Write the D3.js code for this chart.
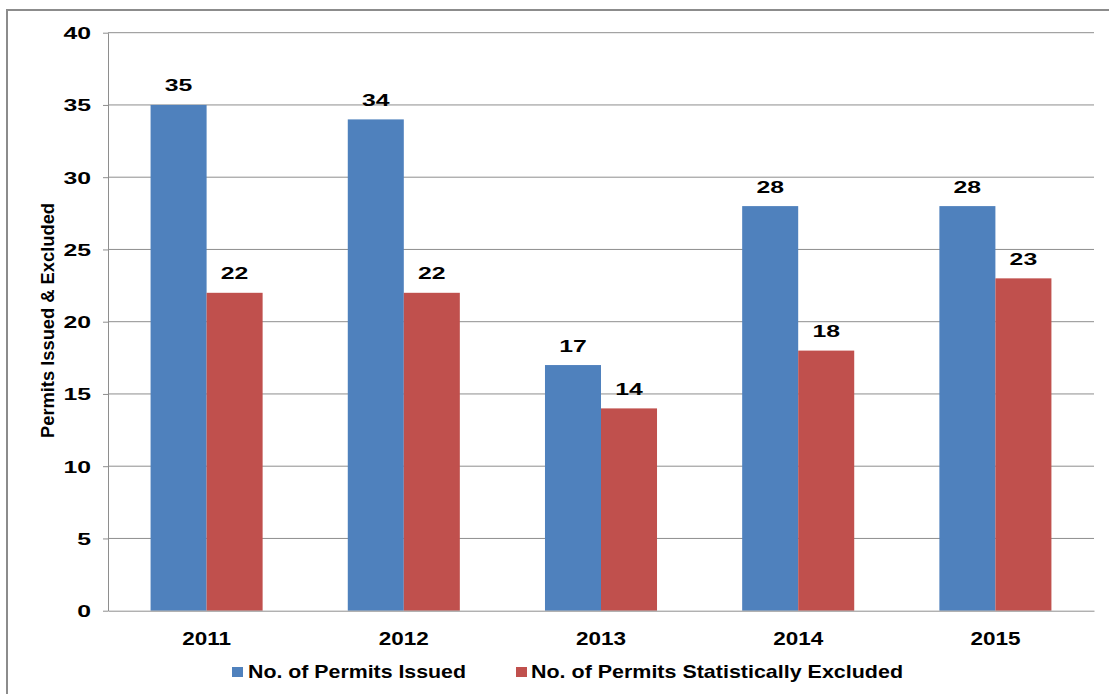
<!DOCTYPE html>
<html>
<head>
<meta charset="utf-8">
<script src="https://cdn.jsdelivr.net/npm/d3@7"></script>
<style>
  html, body { margin: 0; padding: 0; background: #fff; }
  svg { display: block; }
  text { font-family: "Liberation Sans", Arial, sans-serif; font-weight: bold; fill: #000; }
</style>
</head>
<body>
<svg id="chart" width="1109" height="694"></svg>
<script>
const years = ["2011", "2012", "2013", "2014", "2015"];
const seriesNames = ["No. of Permits Issued", "No. of Permits Statistically Excluded"];
const permitsIssued = [35, 34, 17, 28, 28];
const permitsExcluded = [22, 22, 14, 18, 23];
const yTicks = [0, 5, 10, 15, 20, 25, 30, 35, 40];
const seriesColors = ["#4F81BD", "#C0504D"];
const yTitle = "Permits Issued & Excluded";

const svg = d3.select("#chart");
const W = 1109, H = 694;
const plot = { left: 108, right: 1094, top: 32.7, bottom: 610.7 };

function stretch(sel, factor) {
  sel.each(function () {
    const l = this.getComputedTextLength();
    d3.select(this).attr("textLength", l * factor).attr("lengthAdjust", "spacingAndGlyphs");
  });
}

// outer frame (left and top edges visible)
svg.append("path")
  .attr("d", `M7,${H} L7,10 L${W},10`)
  .attr("fill", "none").attr("stroke", "#8c8c8c").attr("stroke-width", 2);

const x0 = d3.scaleBand().domain(years).range([plot.left, plot.right]).padding(0);
const x1 = d3.scaleBand().domain([0, 1]).range([0, x0.bandwidth()]).paddingInner(0).paddingOuter(0.76);
const y = d3.scaleLinear().domain([0, 40]).range([plot.bottom, plot.top]);

// gridlines
svg.append("g").selectAll("line").data(yTicks.filter(d => d > 0)).join("line")
  .attr("x1", plot.left).attr("x2", plot.right)
  .attr("y1", d => y(d)).attr("y2", d => y(d))
  .attr("stroke", "#8e8e8e").attr("stroke-width", 1);

// y axis
const yAxis = svg.append("g").attr("transform", `translate(${plot.left},0)`)
  .call(d3.axisLeft(y).tickValues(yTicks).tickSize(5).tickPadding(12).tickSizeOuter(0));
yAxis.select(".domain").attr("stroke", "#8e8e8e");
yAxis.selectAll(".tick line").attr("stroke", "#8e8e8e");
yAxis.selectAll(".tick text")
  .attr("font-family", "Liberation Sans, Arial, sans-serif")
  .attr("font-weight", "bold").attr("font-size", 16.5).attr("fill", "#000")
  .attr("dy", "0.36em");
stretch(yAxis.selectAll(".tick text"), 1.5);

// bars
const groups = svg.append("g").selectAll("g").data(years).join("g")
  .attr("transform", d => `translate(${x0(d)},0)`);
const rows = years.map((yr, i) => [permitsIssued[i], permitsExcluded[i]]);
groups.selectAll("rect").data((d, i) => rows[i].map((v, s) => ({ v, s }))).join("rect")
  .attr("x", d => x1(d.s)).attr("width", x1.bandwidth())
  .attr("y", d => y(d.v)).attr("height", d => y(0) - y(d.v))
  .attr("fill", d => seriesColors[d.s]);

const labels = groups.selectAll("text.val").data((d, i) => rows[i].map((v, s) => ({ v, s }))).join("text")
  .attr("class", "val")
  .attr("x", d => x1(d.s) + x1.bandwidth() / 2)
  .attr("y", d => y(d.v) - 13.5)
  .attr("text-anchor", "middle").attr("font-size", 16.5)
  .text(d => d.v);
stretch(labels, 1.5);

// x axis line
const xAxis = svg.append("g").attr("transform", `translate(0,${plot.bottom})`)
  .call(d3.axisBottom(x0).tickSize(0).tickPadding(22));
xAxis.select(".domain").attr("stroke", "#8e8e8e");
xAxis.selectAll(".tick text")
  .attr("font-family", "Liberation Sans, Arial, sans-serif")
  .attr("font-weight", "bold").attr("font-size", 18).attr("fill", "#000");
stretch(xAxis.selectAll(".tick text"), 1.25);

// y title
const yt = svg.append("text")
  .attr("transform", "translate(54,320.5) rotate(-90)")
  .attr("text-anchor", "middle").attr("font-size", 18)
  .text(yTitle)
  .attr("textLength", 235).attr("lengthAdjust", "spacingAndGlyphs");

// legend
const legendPos = [{ sx: 232, tx: 248, w: 218 }, { sx: 516, tx: 531, w: 372 }];
const leg = svg.append("g").selectAll("g").data(seriesNames).join("g");
leg.append("rect")
  .attr("x", (d, i) => legendPos[i].sx).attr("y", 667)
  .attr("width", 11).attr("height", 10)
  .attr("fill", (d, i) => seriesColors[i]);
leg.append("text")
  .attr("x", (d, i) => legendPos[i].tx).attr("y", 678)
  .attr("font-size", 19)
  .text(d => d)
  .attr("textLength", (d, i) => legendPos[i].w).attr("lengthAdjust", "spacingAndGlyphs");
</script>
</body>
</html>
